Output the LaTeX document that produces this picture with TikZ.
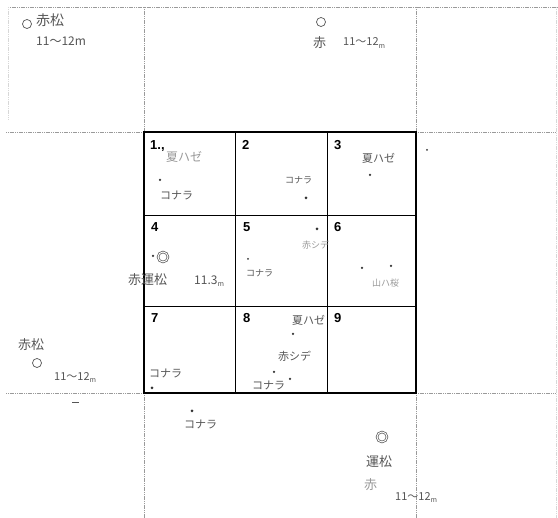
\documentclass[tikz,border=0pt]{standalone}
\usepackage{fontspec}
\setmainfont{Liberation Sans}
\newfontfamily\jp{Noto Sans CJK JP}
\definecolor{hand}{HTML}{555555}
\definecolor{handl}{HTML}{999999}
\definecolor{gridg}{HTML}{9A9A9A}
\begin{document}
\begin{tikzpicture}[x=1pt,y=-1pt,
  outer/.style={gridg,line width=0.8pt,dash pattern=on 1.2pt off 0.6pt},
  inner/.style={black,line width=0.8pt},
  frame/.style={black,line width=1.8pt},
  num/.style={anchor=north west,inner sep=0pt,font=\bfseries\fontsize{13}{13}\selectfont},
  hw/.style={anchor=west,inner sep=0pt,text=hand,font=\jp\fontsize{11}{11}\selectfont},
  hwl/.style={hw,text=handl},
  hws/.style={anchor=west,inner sep=0pt,text=hand,font=\jp\fontsize{9}{9}\selectfont},
  pt/.style={circle,fill=black!80,inner sep=0pt,minimum size=3pt},
  ring/.style={circle,draw=hand,line width=0.7pt,inner sep=0pt,minimum size=9pt},
  dring/.style={circle,draw=hand,line width=0.7pt,inner sep=0pt,minimum size=10pt,double,double distance=1pt}]
\useasboundingbox[fill=white] (0,0) rectangle (558,518);
% outer dotted grid
\draw[outer] (8,7) -- (558,7);
\draw[outer] (6,132) -- (144,132);
\draw[outer] (416,132) -- (556,132);
\draw[outer] (6,393) -- (144,393);
\draw[outer] (416,393) -- (556,393);
\draw[outer] (144,7) -- (144,132);
\draw[outer] (416,7) -- (416,132);
\draw[outer] (144,393) -- (144,518);
\draw[outer] (416,393) -- (416,518);
\draw[outer,gridg!40] (556,7) -- (556,518);
\draw[outer,gridg!40] (8,7) -- (8,120);
% inner grid
\draw[inner] (235,132) -- (235,393);
\draw[inner] (327,132) -- (327,393);
\draw[inner] (144,215) -- (416,215);
\draw[inner] (144,306) -- (416,306);
\draw[frame] (144,132) rectangle (416,393);
% numbers
\node[num] (n1) at (150,140) {1.,};
\node[num] (n2) at (242,140) {2};
\node[num] (n3) at (334,140) {3};
\node[num] (n4) at (151,222) {4};
\node[num] (n5) at (243,222) {5};
\node[num] (n6) at (334,222) {6};
\node[num] (n7) at (151,313) {7};
\node[num] (n8) at (243,313) {8};
\node[num] (n9) at (334,313) {9};
% top-left
\node[ring] (r1) at (27,24) {};
\node[hw,font=\jp\fontsize{14}{14}\selectfont] (t1) at (36,20) {赤松};
\node[hw,font=\jp\fontsize{12}{12}\selectfont] (t1b) at (36,41) {11〜12m};
% top middle
\node[ring] (r2) at (321,22) {};
\node[hw,font=\jp\fontsize{13}{13}\selectfont] (t2) at (313,43) {赤};
\node[hw] (t2b) at (343,43) {11〜12\raisebox{-3pt}{\fontsize{7}{7}\selectfont m}};
% cell 1
\node[hwl,font=\jp\fontsize{12}{12}\selectfont] (c1a) at (166,157) {夏ハゼ};
\node[pt,minimum size=2.5pt] (c1p) at (160,180) {};
\node[hw] (c1b) at (160,195) {コナラ};
% cell 2
\node[hws] (c2a) at (285,180) {コナラ};
\node[pt] (c2p) at (306,198) {};
% cell 3
\node[hw] (c3a) at (362,158) {夏ハゼ};
\node[pt,minimum size=2.5pt] (c3p) at (370,175) {};
% right of cell 3
\node[pt,minimum size=2pt] (rp) at (427,150) {};
% cell 4
\node[pt,minimum size=2.5pt] (c4p) at (153,256) {};
\node[dring] (c4r) at (163,257) {};
\node[hw,font=\jp\fontsize{13}{13}\selectfont] (c4a) at (128,280) {赤運松};
\node[hw,font=\jp\fontsize{12}{12}\selectfont] (c4b) at (194,281) {11.3\raisebox{-2pt}{\fontsize{7}{7}\selectfont m}};
% cell 5
\node[pt] (c5p1) at (317,229) {};
\node[hwl,font=\jp\fontsize{9}{9}\selectfont] (c5a) at (302,245) {赤シデ};
\node[pt,minimum size=2pt] (c5p2) at (248,259) {};
\node[hws] (c5b) at (246,273) {コナラ};
% cell 6
\node[pt,minimum size=2.5pt] (c6p1) at (362,268) {};
\node[pt,minimum size=2.5pt] (c6p2) at (391,266) {};
\node[hwl,font=\jp\fontsize{9}{9}\selectfont] (c6a) at (372,283) {山ハ桜};
% left middle
\node[hw,font=\jp\fontsize{13}{13}\selectfont] (lm1) at (18,345) {赤松};
\node[ring] (lm2) at (37,363) {};
\node[hw] (lm3) at (54,378) {11〜12\raisebox{-2pt}{\fontsize{7}{7}\selectfont m}};
\draw[hand,line width=0.8pt] (72,402) -- (79,402);
% cell 7
\node[hw] (c7a) at (149,373) {コナラ};
\node[pt,minimum size=3pt] (c7p) at (152,388) {};
% cell 8
\node[hw] (c8a) at (292,320) {夏ハゼ};
\node[pt,minimum size=2.5pt] (c8p1) at (293,334) {};
\node[hw] (c8b) at (278,356) {赤シデ};
\node[pt,minimum size=2.5pt] (c8p2) at (274,372) {};
\node[pt,minimum size=2.5pt] (c8p3) at (290,379) {};
\node[hw] (c8c) at (252,385) {コナラ};
% bottom middle
\node[pt] (bp) at (192,411) {};
\node[hw] (bc) at (184,424) {コナラ};
% bottom right
\node[dring] (br) at (382,437) {};
\node[hw,font=\jp\fontsize{13}{13}\selectfont] (b1) at (366,462) {運松};
\node[hwl,font=\jp\fontsize{13}{13}\selectfont] (b2) at (364,485) {赤};
\node[hw] (b3) at (395,498) {11〜12\raisebox{-2pt}{\fontsize{7}{7}\selectfont m}};
\end{tikzpicture}
\end{document}
